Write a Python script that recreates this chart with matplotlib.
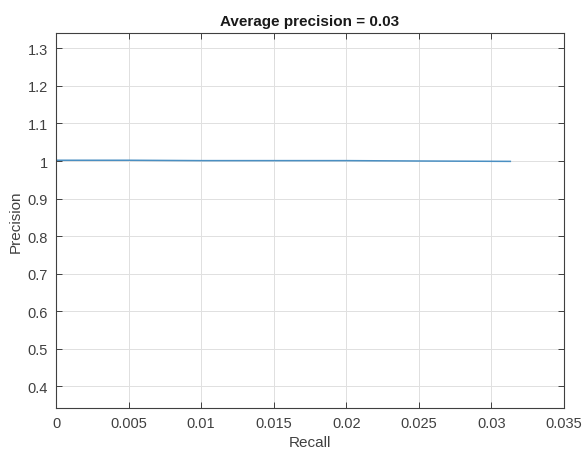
import matplotlib.pyplot as plt

plt.rcParams['font.family'] = ['Liberation Sans', 'DejaVu Sans']

# precision-recall curve values
recall = [0.0, 0.005, 0.01, 0.015, 0.02, 0.025, 0.0313]
precision = [1.002, 1.002, 1.001, 1.001, 1.001, 1.0, 0.999]
x_ticks = [0, 0.005, 0.01, 0.015, 0.02, 0.025, 0.03, 0.035]
x_labels = ['0', '0.005', '0.01', '0.015', '0.02', '0.025', '0.03', '0.035']
y_ticks = [0.4, 0.5, 0.6, 0.7, 0.8, 0.9, 1.0, 1.1, 1.2, 1.3]
y_labels = ['0.4', '0.5', '0.6', '0.7', '0.8', '0.9', '1', '1.1', '1.2', '1.3']


def main():
    fig = plt.figure(figsize=(5.84, 4.52), dpi=100)
    ax = fig.add_axes([0.0959, 0.0951, 0.8699, 0.8297])

    ax.plot(recall, precision, color='#4a8fc2', linewidth=1.1)

    ax.set_xlim(0, 0.035)
    ax.set_ylim(0.342, 1.341)
    ax.set_xticks(x_ticks)
    ax.set_xticklabels(x_labels)
    ax.set_yticks(y_ticks)
    ax.set_yticklabels(y_labels)

    ax.grid(True, color='#e0e0e0', linewidth=0.7)
    ax.set_axisbelow(True)
    ax.tick_params(direction='in', top=True, right=True, length=4,
                   labelsize=10.5, colors='#404040', width=0.7, pad=6)
    for s in ax.spines.values():
        s.set_color('#404040')
        s.set_linewidth(0.8)

    ax.set_title('Average precision = 0.03', fontsize=11,
                 fontweight='bold', color='#1a1a1a', pad=6)
    ax.set_xlabel('Recall', fontsize=11, color='#404040', labelpad=3)
    ax.set_ylabel('Precision', fontsize=11, color='#404040', labelpad=3)

    fig.savefig('out.png', dpi=100)


if __name__ == '__main__':
    main()
